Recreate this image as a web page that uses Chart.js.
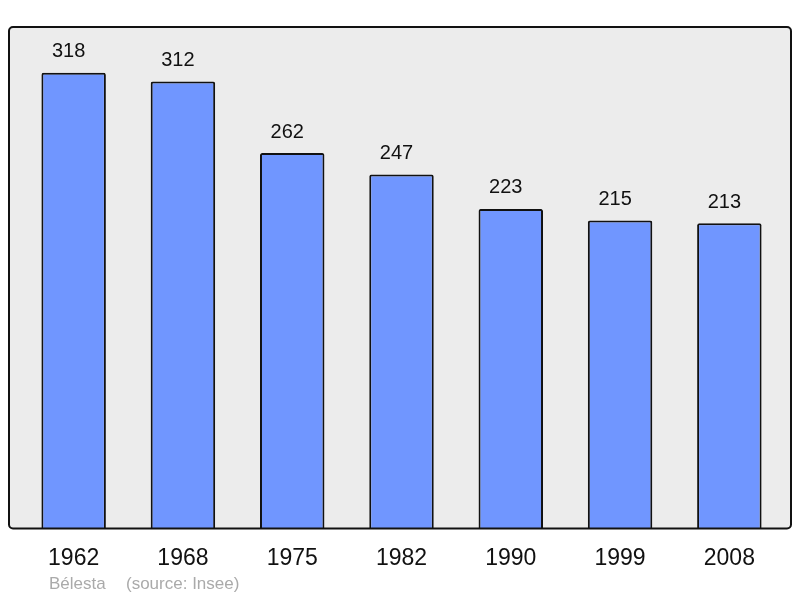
<!DOCTYPE html>
<html>
<head>
<meta charset="utf-8">
<script src="https://cdn.jsdelivr.net/npm/chart.js@4"></script>
<style>
  html, body { margin: 0; padding: 0; background: #fff; }
  #wrap { width: 800px; height: 598px; }
</style>
</head>
<body>
<div id="wrap"><canvas id="chart" width="800" height="598"></canvas></div>
<script>
const years = ["1962", "1968", "1975", "1982", "1990", "1999", "2008"];
const population = [318, 312, 262, 247, 223, 215, 213];
const yMax = 350;
const commune = "Bélesta";
const source = "(source: Insee)";

const fontFamily = "'Liberation Sans', Arial, sans-serif";

// grey rounded frame behind the bars
const framePlugin = {
    id: "frame",
    frameRect(chart) {
        const a = chart.chartArea;
        return { x: a.left - 10, y: a.top, w: (a.right + 7) - (a.left - 10), h: a.bottom - a.top };
    },
    beforeDatasetsDraw(chart) {
        const ctx = chart.ctx;
        const r = this.frameRect(chart);
        ctx.save();
        ctx.beginPath();
        ctx.roundRect(r.x, r.y, r.w, r.h, 4);
        ctx.fillStyle = "#ececec";
        ctx.fill();
        ctx.restore();
    },
    afterDatasetsDraw(chart) {
        const ctx = chart.ctx;
        const r = this.frameRect(chart);
        ctx.save();
        ctx.beginPath();
        ctx.roundRect(r.x, r.y, r.w, r.h, 4);
        ctx.lineWidth = 2;
        ctx.strokeStyle = "#111";
        ctx.stroke();

        // values above bars
        const meta = chart.getDatasetMeta(0);
        ctx.fillStyle = "#111";
        ctx.font = "20px " + fontFamily;
        ctx.textAlign = "center";
        ctx.textBaseline = "middle";
        meta.data.forEach((bar, i) => {
            ctx.fillText(String(population[i]), bar.x - 5, bar.y - 21);
        });

        // footer
        ctx.fillStyle = "#aaaaaa";
        ctx.font = "17px " + fontFamily;
        ctx.textAlign = "left";
        ctx.fillText(commune, 49, 584);
        ctx.fillText(source, 126, 584);
        ctx.restore();
    }
};

const ctx = document.getElementById("chart").getContext("2d");
new Chart(ctx, {
    type: "bar",
    data: {
        labels: years,
        datasets: [{
            data: population,
            backgroundColor: "#7096ff",
            borderColor: "#111",
            borderWidth: 2,
            borderRadius: { topLeft: 2, topRight: 2 },
            borderSkipped: "bottom",
            categoryPercentage: 1,
            barPercentage: 0.59
        }]
    },
    options: {
        responsive: false,
        animation: false,
        layout: { padding: { left: 19, right: 16, top: 27, bottom: 10 } },
        plugins: {
            legend: { display: false },
            tooltip: { enabled: false }
        },
        scales: {
            x: {
                grid: { display: false, drawTicks: false },
                border: { display: false },
                ticks: {
                    color: "#111",
                    font: { family: fontFamily, size: 23 },
                    padding: 16,
                    maxRotation: 0
                }
            },
            y: {
                display: false,
                min: 0,
                max: yMax
            }
        }
    },
    plugins: [framePlugin]
});
</script>
</body>
</html>
